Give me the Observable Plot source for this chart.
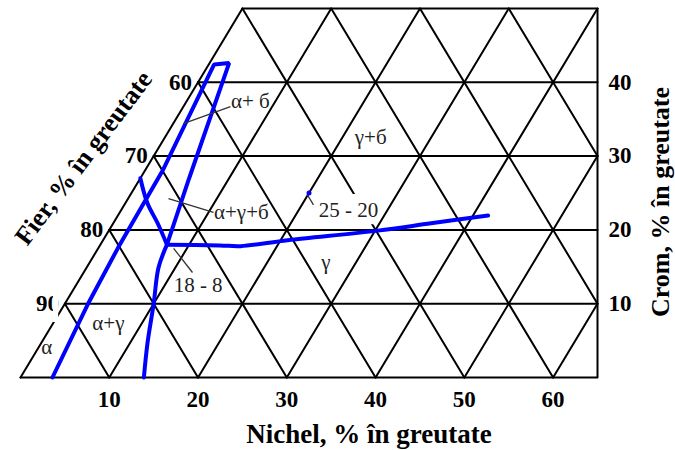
<!DOCTYPE html>
<html><head><meta charset="utf-8">
<script src="https://cdn.jsdelivr.net/npm/d3@7"></script>
<script src="https://cdn.jsdelivr.net/npm/@observablehq/plot@0.6"></script>
<style>body{margin:0;background:#fff}</style>
</head><body><div id="chart"></div>
<script>
// Tick labels
const niTicks = [10, 20, 30, 40, 50, 60];   // Nichel, bottom
const crTicks = [10, 20, 30, 40];           // Crom, right
const feTicks = [60, 70, 80, 90];           // Fier, left edge
// Grid levels
const crLevels = [0, 10, 20, 30, 40, 50];
const niLevels = [0, 10, 20, 30, 40, 50, 60];
const feSums = [10, 20, 30, 40, 50, 60, 70, 80]; // Ni + Cr = const (Fe = 100 - sum)
const crMax = 50, xMax = 65;

// Blue phase boundaries (Ni %, Cr %)
const alphaBoundary = [
  {ni: 3.6, cr: 0}, {ni: 2.6, cr: 10.2}, {ni: 2.2, cr: 17.6}, {ni: 2.0, cr: 28},
  {ni: 0.6, cr: 42.4}, {ni: 2.2, cr: 42.6}, {ni: 5.5, cr: 27}, {ni: 7.5, cr: 18}
];
const gammaLower = [
  {ni: 7.5, cr: 18}, {ni: 8.1, cr: 14.9}, {ni: 10.0, cr: 10}, {ni: 12.0, cr: 4.6}, {ni: 13.9, cr: 0}
];
const leftBranch = [
  {ni: 0, cr: 27}, {ni: 2.5, cr: 23.6}, {ni: 5.0, cr: 20.9}, {ni: 7.5, cr: 18}
];
const gammaUpper = [
  {ni: 7.5, cr: 18}, {ni: 13.5, cr: 17.9}, {ni: 15.9, cr: 17.8}, {ni: 20.8, cr: 18.6},
  {ni: 30.3, cr: 19.9}, {ni: 35.8, cr: 20.9}, {ni: 41.7, cr: 21.95}
];
const alloy2520 = [{ni: 20, cr: 25}];

// Region labels
const labelsStart = [
  {text: "α+ б", ni: 5.0, cr: 37.4},
  {text: "α+γ+б", ni: 10.6, cr: 22.4},
  {text: "25 - 20", ni: 22.3, cr: 22.6},
  {text: "18 - 8", ni: 11.0, cr: 12.5}
];
const labelsMiddle = [
  {text: "γ+б", ni: 23.2, cr: 32.5},
  {text: "γ", ni: 26.6, cr: 15.6},
  {text: "α+γ", ni: 6.25, cr: 7.3},
  {text: "α", ni: 0.9, cr: 4.1}
];
const leaders = [
  {ni1: 1.15, cr1: 34.4, ni2: 5.3, cr2: 36.7},
  {ni1: 4.55, cr1: 24.25, ni2: 10.56, cr2: 22.36},
  {ni1: 8.5, cr1: 17.5, ni2: 12.26, cr2: 14.23},
  {ni1: 19.9, cr1: 24.8, ni2: 21.3, cr2: 23.4}
];
// white label backgrounds (plot units: x = Ni + Cr/2, y = Cr)
const masks = [
  {x1: 33.3, x2: 40.1, y1: 20.7, y2: 24.8}
];
const masksTop = [
  {x1: 3.72, x2: 4.3, y1: 7.45, y2: 10.98}
];

const X = d => d.ni + d.cr / 2;

// grid segments
const grid = [];
crLevels.forEach(c => { grid.push({id: "h" + c, ni: 0, cr: c}, {id: "h" + c, ni: xMax - c / 2, cr: c}); });
niLevels.forEach(n => { const top = Math.min(crMax, 2 * (xMax - n)); grid.push({id: "n" + n, ni: n, cr: 0}, {id: "n" + n, ni: n, cr: top}); });
feSums.forEach(s => {
  let a = s <= xMax ? {ni: s, cr: 0} : {ni: s - 2 * (s - xMax), cr: 2 * (s - xMax)};
  let b = {ni: Math.max(0, s - crMax), cr: Math.min(s, crMax)};
  grid.push({id: "f" + s, ...a}, {id: "f" + s, ...b});
});

const serif = "'Liberation Serif', 'Times New Roman', serif";
const blue = "#0000ff";
const titleOpts = {textAnchor: "middle", lineAnchor: "middle", fontWeight: "bold", text: d => d};

const chart = Plot.plot({
  width: 675, height: 450,
  marginLeft: 20, marginRight: 78, marginTop: 8, marginBottom: 73,
  x: {domain: [0, xMax], axis: null},
  y: {domain: [0, crMax], axis: null},
  style: {fontFamily: serif, background: "#fff"},
  marks: [
    Plot.line(grid, {x: X, y: "cr", z: "id", stroke: "#000", strokeWidth: 2}),
    Plot.ruleX([xMax], {y1: 0, y2: crMax, stroke: "#000", strokeWidth: 2}),
    Plot.rect(masks, {x1: "x1", x2: "x2", y1: "y1", y2: "y2", fill: "#fff"}),
    Plot.line(alphaBoundary, {x: X, y: "cr", stroke: blue, strokeWidth: 4, strokeLinejoin: "miter"}),
    Plot.line(gammaLower, {x: X, y: "cr", stroke: blue, strokeWidth: 4, curve: "catmull-rom"}),
    Plot.line(leftBranch, {x: X, y: "cr", stroke: blue, strokeWidth: 4, curve: "catmull-rom"}),
    Plot.line(gammaUpper, {x: X, y: "cr", stroke: blue, strokeWidth: 4, curve: "catmull-rom"}),
    Plot.link(leaders, {x1: d => d.ni1 + d.cr1 / 2, y1: "cr1", x2: d => d.ni2 + d.cr2 / 2, y2: "cr2", stroke: "#333", strokeWidth: 1.3}),
    Plot.dot(alloy2520, {x: X, y: "cr", r: 2.5, fill: blue}),
    Plot.text(labelsStart, {x: X, y: "cr", text: "text", textAnchor: "start", fontSize: 21, fill: "#222"}),
    Plot.text(labelsMiddle, {x: X, y: "cr", text: "text", fontSize: 21, fill: "#222"}),
    Plot.text(niTicks, {x: d => d, y: () => 0, text: d => String(d), dy: 22, fontSize: 23, fontWeight: "bold"}),
    Plot.text(crTicks, {x: () => xMax, y: d => d, text: d => String(d), dx: 11, textAnchor: "start", fontSize: 23, fontWeight: "bold"}),
    Plot.text(feTicks, {x: d => (100 - d) / 2, y: d => 100 - d, text: d => String(d), dx: -6, textAnchor: "end", fontSize: 23, fontWeight: "bold"}),
    Plot.rect(masksTop, {x1: "x1", x2: "x2", y1: "y1", y2: "y2", fill: "#fff"}),
    Plot.text(["Nichel, % în greutate"], {frameAnchor: "bottom", dx: 60, dy: 57, fontSize: 27, ...titleOpts}),
    Plot.text(["Crom, % în greutate"], {frameAnchor: "right", dx: 63, dy: 9, rotate: -90, fontSize: 26, ...titleOpts}),
    Plot.text(["Fier, % în greutate"], {frameAnchor: "left", dx: 63, dy: -35, rotate: -53, fontSize: 26, ...titleOpts})
  ]
});
document.getElementById("chart").append(chart);
</script>
</body></html>
